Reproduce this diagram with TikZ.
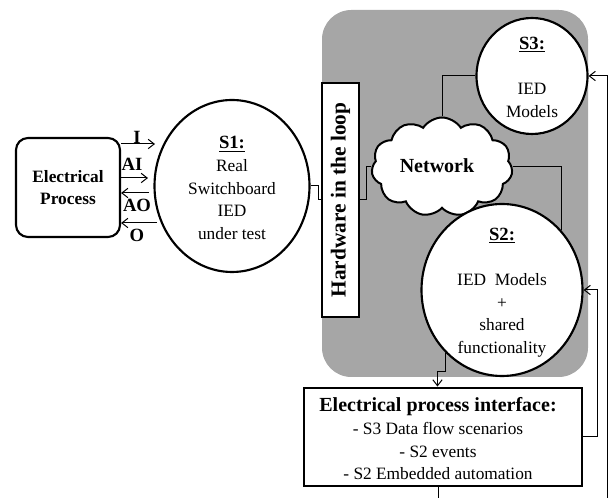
\documentclass[tikz,border=0pt]{standalone}
\usepackage{fontspec}
\setmainfont{Liberation Serif}
\usetikzlibrary{shapes.geometric,shapes.symbols,arrows.meta}
\definecolor{hilgray}{HTML}{A6A6A6}
\begin{document}
\begin{tikzpicture}[x=0.75pt,y=-0.75pt,
  thinline/.style={line width=0.75pt},
  arr/.style={thinline,-{Straight Barb[length=4.5pt,width=7pt]}},
  circ/.style={draw,ellipse,line width=1.6pt,fill=white,inner sep=0pt},
  txt/.style={align=center,font=\fontsize{13}{17}\selectfont,inner sep=0pt},
  lbl/.style={font=\fontsize{14}{17}\selectfont\bfseries,inner sep=0pt},
  head/.style={font=\fontsize{14}{17}\selectfont\bfseries},
]
\useasboundingbox (0,0) rectangle (611,498);
\fill[hilgray,rounded corners=22pt] (322,10) rectangle (588,377);

% Electrical process
\node[draw,rounded corners=9pt,line width=1.6pt,minimum width=78pt,minimum height=74.25pt,
      align=center,font=\fontsize{13}{16.5}\selectfont\bfseries] (ep) at (68,187.5) {Electrical\\Process};

% S1
\node[circ,minimum width=116.25pt,minimum height=129pt] (s1) at (232,186) {};
\node[txt] (s1t) at (232,188) {{\fontsize{14}{17}\selectfont\bfseries\underline{S1:}}\\Real\\Switchboard\\IED\\under test};

% I/O arrows
\coordinate (cI) at (155,144);
\coordinate (cAI) at (148,178);
\coordinate (cAO) at (149,193);
\coordinate (cO) at (157,223);
\draw[arr] (ep.east |- cI) -- (cI);
\draw[arr] (ep.east |- cAI) -- (cAI);
\draw[arr] (cAO) -- (ep.east |- cAO);
\draw[arr] (cO) -- (ep.east |- cO);
\node[lbl] (lI) at (137,137.5) {I};
\node[lbl] (lAI) at (132,164) {AI};
\node[lbl] (lAO) at (137,205) {AO};
\node[lbl] (lO) at (137,235) {O};

% Hardware in the loop
\node[draw,line width=2pt,fill=white,rotate=90,minimum width=175.5pt,minimum height=27.75pt,
      inner sep=0pt,font=\fontsize{16}{18}\selectfont\bfseries] (hil) at (340.5,200) {Hardware in the loop};

% Network cloud
\node[cloud,draw,fill=white,line width=1.5pt,cloud puffs=11,cloud puff arc=115,cloud ignores aspect,
      minimum width=105.75pt,minimum height=74.25pt,inner sep=0pt] (cloud) at (442,167) {};
\node[inner sep=0pt,font=\fontsize{15}{18}\selectfont\bfseries] (nett) at (437,166) {Network};

% S3
\node[circ,minimum width=83.25pt,minimum height=87pt] (s3) at (532,76) {};
\node[txt] (s3t) at (532,77.5) {{\fontsize{14}{17}\selectfont\bfseries\underline{S3:}}\\\mbox{}\\IED\\Models};

% S2
\node[circ,minimum width=120.75pt,minimum height=129pt] (s2) at (502,290) {};
\node[txt] (s2t) at (502,292.5) {{\fontsize{14}{17}\selectfont\bfseries\underline{S2:}}\\\mbox{}\\IED~ Models\\+\\shared\\functionality};

% Electrical process interface
\node[draw,line width=2.2pt,fill=white,minimum width=208.5pt,minimum height=73.5pt,inner sep=0pt] (epi) at (443,437) {};
\node[txt] (epit) at (438,439) {{\fontsize{15}{17}\selectfont\bfseries Electrical process interface:}\\- S3 Data flow scenarios\\- S2 events\\- S2 Embedded automation};

% connectors
\draw[thinline] (s1.east) -- ++(7.5,0) |- (hil.north);
\draw[thinline] (hil.south) -- ++(6,0) |- (cloud.west);
\draw[thinline] (s3.west) -| (cloud.north);
\draw[thinline] (cloud.east) -| (s2.45);
\draw[arr] (s2.228) -- ++(0,19) -- ++(-8,0) coordinate (k) -- (k |- epi.north);
\draw[arr] (epi.east) -- ++(14,0) |- (s2.east);
\draw[arr] ([xshift=-3.75pt]epi.south) -- ++(0,20) -- ++(169,0) |- (s3.east);
\end{tikzpicture}
\end{document}
